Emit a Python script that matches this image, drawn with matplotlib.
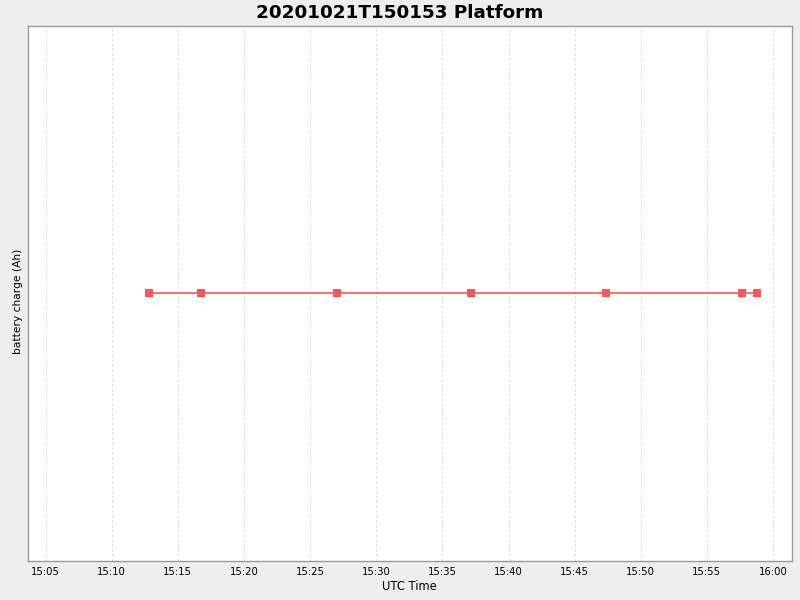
import datetime as dt
import matplotlib
matplotlib.use("Agg")
import matplotlib.pyplot as plt
import matplotlib.dates as mdates

# sample times (UTC) and battery charge readings
times = ["15:12:47", "15:16:47", "15:27:04", "15:37:11", "15:47:22", "15:57:40", "15:58:47"]
charge = [0, 0, 0, 0, 0, 0, 0]
day = "2020-10-21"

t = [dt.datetime.strptime(day + " " + s, "%Y-%m-%d %H:%M:%S") for s in times]

fig = plt.figure(figsize=(8, 6), dpi=100, facecolor="#eeeeee")
ax = fig.add_axes([27.5 / 800, 39.5 / 600, 764.5 / 800, 534.5 / 600])
ax.set_facecolor("white")

ax.plot(t, charge, color="#ff5555", lw=1.2, marker="s", ms=5.8, mec="#ff5555", mew=0, zorder=3)

ax.set_xlim(dt.datetime(2020, 10, 21, 15, 3, 38), dt.datetime(2020, 10, 21, 16, 1, 26))
ax.set_ylim(-1, 1)
ax.xaxis.set_major_locator(mdates.MinuteLocator(byminute=range(0, 60, 5)))
ax.xaxis.set_major_formatter(mdates.DateFormatter("%H:%M"))
ax.set_yticks([])
ax.tick_params(axis="x", length=0, pad=5, labelsize=7.3)
ax.grid(axis="x", color="#dcdcdc", ls=(0, (2.5, 2.5)), lw=0.7)

for sp in ax.spines.values():
    sp.set_color("#999999")
    sp.set_linewidth(1)

ax.set_xlabel("UTC Time", fontsize=8.3, labelpad=2)
ax.set_ylabel("battery charge (Ah)", fontsize=7.7)
ax.yaxis.set_label_coords(-0.0055, 0.484)
fig.suptitle("20201021T150153 Platform", fontsize=13.2, fontweight="bold", y=0.993, va="top")

fig.savefig("out.png", dpi=100, facecolor=fig.get_facecolor())
